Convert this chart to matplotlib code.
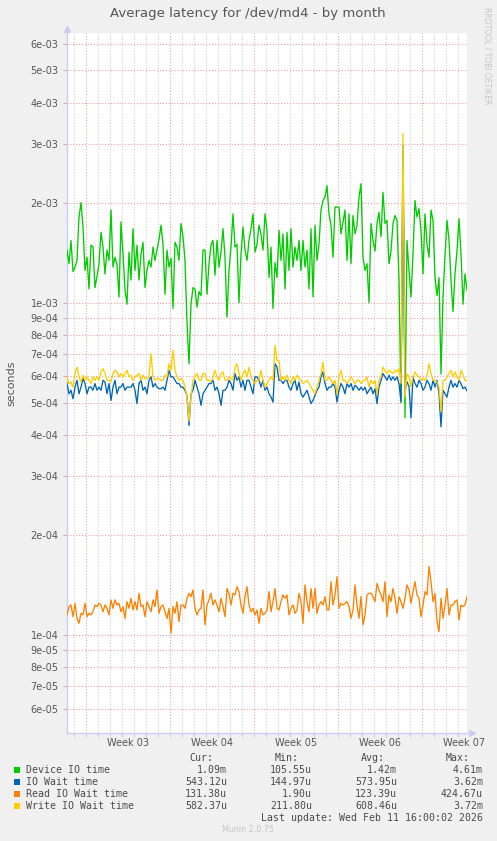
import numpy as np
import matplotlib
matplotlib.use("Agg")
import matplotlib.pyplot as plt
from matplotlib.patches import Rectangle

# ---------------- data ----------------
title = "Average latency for /dev/md4 - by month"
period_hours = 800          # graph covers 800 hours (2 h per pixel)
week_labels = ["Week 03", "Week 04", "Week 05", "Week 06", "Week 07"]
first_day_line = 0.55       # days from graph start to first midnight line
first_week_line = 1.558     # days from graph start to first week line

# Device IO time (milliseconds)
device_io_ms = [
    1.44, 1.31, 1.54, 1.24, 1.28, 1.34, 1.81, 2.0, 1.69, 1.25,
    1.37, 1.10, 1.49, 1.47, 1.11, 1.20, 1.31, 1.63, 1.47, 1.22,
    1.44, 1.34, 1.90, 1.28, 1.37, 1.30, 1.04, 1.75, 1.40, 1.09,
    0.99, 1.42, 1.17, 1.67, 1.25, 1.49, 1.17, 1.40, 1.52, 1.11,
    1.25, 1.34, 1.28, 1.47, 1.34, 1.44, 1.55, 1.71, 1.50, 1.06,
    1.44, 1.28, 1.36, 0.96, 1.52, 1.47, 1.34, 1.73, 1.58, 1.34,
    0.87, 0.655, 0.99, 1.11, 1.10, 0.97, 1.08, 1.05, 1.44,
    1.44, 1.06, 1.31, 1.49, 1.54, 1.21, 1.54, 1.28, 1.42, 1.67,
    1.37, 0.905, 1.25, 1.47, 1.85, 1.47, 1.50, 1.0, 1.40, 1.69,
    1.44, 1.34, 1.54, 1.67, 1.85, 1.42, 1.50, 1.71, 1.61, 1.44,
    1.85, 1.65, 1.19, 1.47, 0.96, 1.32, 1.19, 1.65, 1.34, 1.61,
    1.10, 1.63, 1.25, 1.67, 1.28, 1.47, 1.34, 1.54, 1.25, 1.54,
    1.28, 1.44, 1.10, 1.67, 1.04, 1.71, 1.34, 1.50, 1.90, 2.03,
    2.08, 2.25, 1.85, 1.71, 1.37, 1.94, 1.94,
    1.94, 1.61, 1.75, 1.90, 1.34, 1.85, 1.31, 1.83, 1.61, 1.71,
    2.08, 2.28, 1.37, 1.25, 1.31, 1.0, 1.73, 1.54, 1.43, 1.73,
    1.87, 1.58, 2.15, 1.73, 1.77, 1.31, 1.43, 1.73, 1.83, 1.77,
    1.17, 0.50, 2.8, 0.45, 1.54, 1.25, 1.04, 1.40, 2.03, 1.81,
    1.92, 1.65, 1.22, 1.85, 1.50, 1.37, 1.90, 1.77, 1.19, 1.05,
    1.19, 0.61, 1.04, 1.39, 1.77, 1.54, 1.17, 0.94, 1.22, 1.43,
    1.79, 1.40, 0.99, 1.22, 1.09,
]

# IO Wait time (microseconds)
io_wait_us = [
    571, 532, 545, 514, 557, 584, 532, 557, 591, 571,
    532, 557, 557, 545, 571, 545, 557, 545, 584, 577,
    532, 571, 508, 557, 584, 532, 557, 557, 571, 545,
    557, 557, 557, 571, 545, 497, 571, 584, 545, 557,
    532, 584, 598, 557, 571, 557, 551, 551, 557, 545,
    584, 626, 598, 598, 584, 571, 571, 557, 557, 545,
    526, 427, 532, 545, 584, 557, 532, 491, 532, 545,
    557, 571, 571, 584, 545, 557, 532, 491, 545, 545,
    557, 584, 571, 545, 612, 584, 598, 557, 584, 545,
    584, 584, 557, 532, 598, 598, 584, 557, 584, 545,
    557, 532, 520, 502, 655, 640, 584, 584, 571, 584,
    584, 557, 545, 571, 584, 545, 577, 532, 520, 532,
    545, 520, 497, 508, 526, 545, 557, 598, 619, 571,
    545, 557, 557, 571, 557, 502, 545, 571, 557, 532,
    571, 557, 571, 545, 564, 557, 545, 557, 545, 557,
    532, 545, 557, 532, 551, 497, 557, 584, 612, 598,
    584, 605, 584, 598, 584, 598, 571, 504, 2980, 540,
    578, 560, 450, 598, 571, 557, 584, 571, 545, 557,
    584, 571, 545, 584, 557, 584, 532, 423, 545, 532,
    520, 557, 584, 557, 571, 557, 584, 571, 551, 557,
    543,
]

# Read IO Wait time (microseconds)
read_wait_us = [
    114.9, 121.7, 123.1, 113.5, 124.5, 112.2, 108.4, 116.2, 114.9, 124.5,
    113.5, 116.2, 114.9, 117.5, 123.1, 121.7, 124.5, 123.1, 117.5, 123.1,
    120.3, 114.9, 127.5, 120.3, 127.5, 123.1, 124.5, 117.5, 121.7, 112.2,
    126.0, 120.3, 129.0, 118.9, 126.0, 118.9, 133.5, 121.7, 123.1, 113.5,
    126.0, 121.7, 117.5, 127.5, 121.7, 136.6, 116.2, 121.7, 123.1, 117.5,
    112.2, 120.3, 101.2, 121.7, 116.2, 126.0, 109.7, 123.1, 123.1, 120.3,
    129.0, 133.5, 130.4, 136.6, 120.3, 114.9, 118.9, 120.3, 136.6, 107.2,
    123.1, 127.5, 133.5, 123.1, 127.5, 123.1, 117.5, 129.0, 121.7, 113.5,
    138.0, 133.5, 123.1, 133.5, 132.0, 139.8, 135.0, 123.1, 116.2, 130.4,
    139.8, 123.1, 117.5, 120.3, 114.9, 118.9, 108.4, 120.3, 114.9, 116.2,
    118.9,
    135.0, 117.5, 126.0, 138.0, 120.3, 118.9, 126.0, 132.0, 129.0, 132.0,
    114.9, 120.3, 123.1, 116.2, 118.9, 133.5, 126.0, 108.4, 141.4, 126.0,
    117.5, 138.0, 120.3, 138.0, 116.2, 123.1, 126.0, 123.1, 130.4, 118.9,
    118.9, 144.7, 123.1, 132.0, 149.8, 120.3, 124.5, 123.1, 124.5, 126.0,
    121.7, 112.2, 118.9, 141.4, 123.1, 112.2, 130.4, 107.2, 114.9, 132.0,
    133.5, 133.5, 130.4, 126.0, 143.0, 136.6, 132.0, 126.0, 144.7, 113.5,
    132.0, 126.0, 138.0, 129.0, 116.2, 130.4, 126.0, 120.3, 129.0, 141.4,
    136.6, 124.5, 135.0, 144.7, 132.0, 129.0, 113.5, 123.1, 135.0, 132.0,
    160.7, 144.7, 126.0, 133.5, 109.7, 102.3, 129.0, 112.2, 123.1, 138.0,
    114.9, 123.1, 123.1, 126.0, 127.5, 111.0, 123.1, 121.7, 123.1, 130.4,
]

# Write IO Wait time (microseconds)
write_wait_us = [
    598, 571, 577, 557, 612, 640, 598, 577, 605, 584,
    598, 584, 571, 598, 584, 598, 584, 619, 633, 612,
    584, 584, 577, 612, 626, 619, 598, 612, 598, 612,
    626, 598, 605, 584, 598, 605, 612, 584, 605, 591,
    591, 598, 701, 598, 584, 591, 591, 584, 584, 605,
    598, 655, 626, 719, 626, 598, 584, 591, 584, 557,
    520, 440, 520, 584, 598, 612, 584, 584, 612, 612,
    584, 584, 577, 598, 626, 598, 584, 612, 619, 584,
    584, 598, 591, 584, 640, 655, 612, 584, 612, 626,
    598, 640, 598, 584, 571, 584, 584, 626, 584, 557,
    571, 584, 598, 584, 744, 669, 669, 584, 598, 584,
    605, 584, 571, 598, 584, 605, 591, 584, 571, 577,
    584, 571, 557, 545, 532, 557, 584, 612, 663, 584,
    584, 598, 584, 571, 584, 532, 598, 626, 584, 584,
    571, 584, 598, 584, 571, 584, 584, 571, 584, 584,
    598, 557, 584, 571, 584, 532, 584, 598, 640, 626,
    612, 626, 619, 612, 626, 619, 633, 571, 3230, 520,
    610, 600, 560, 598, 619, 605, 598, 584, 591, 584,
    605, 655, 612, 584, 584, 577, 557, 470, 584, 584,
    598, 612, 626, 598, 619, 598, 584, 626, 605, 584,
    582,
]

series_names = ["Device IO time", "IO Wait time", "Read IO Wait time", "Write IO Wait time"]
series_colors = ["#00CC00", "#0066B3", "#FF8000", "#FFCC00"]
cur_vals = ["1.09m", "543.12u", "131.38u", "582.37u"]
min_vals = ["105.55u", "144.97u", "1.90u", "211.80u"]
avg_vals = ["1.42m", "573.95u", "123.39u", "608.46u"]
max_vals = ["4.61m", "3.62m", "424.67u", "3.72m"]
last_update = "Last update: Wed Feb 11 16:00:02 2026"
version = "Munin 2.0.75"

y_ticks = [6e-5, 7e-5, 8e-5, 9e-5, 1e-4, 2e-4, 3e-4, 4e-4, 5e-4, 6e-4, 7e-4,
           8e-4, 9e-4, 1e-3, 2e-3, 3e-3, 4e-3, 5e-3, 6e-3]
y_limits = (5.07e-5, 6.48e-3)

# ---------------- figure ----------------
W, H = 497, 841
fig = plt.figure(figsize=(W / 100, H / 100), dpi=100, facecolor="#F0F0F0")
ax = fig.add_axes([67 / W, 1 - 733 / H, 400 / W, 700 / H])
ax.set_facecolor("white")

span_days = period_hours / 24.0
series_values = [
    np.array(device_io_ms) * 1e-3,
    np.array(io_wait_us) * 1e-6,
    np.array(read_wait_us) * 1e-6,
    np.array(write_wait_us) * 1e-6,
]
for vals, col in zip(series_values, series_colors):
    t = np.linspace(0, span_days, len(vals))
    ax.plot(t, vals, color=col, lw=0.95, zorder=3, solid_joinstyle="round")

ax.set_yscale("log")
ax.set_ylim(*y_limits)
ax.set_xlim(0, span_days)

# grid
major_c = "#E9A3A3"
minor_c = "#CFCFCF"
dot = (0, (1, 1.6))
day_lines = np.arange(first_day_line, span_days, 1.0)
week_lines = np.arange(first_week_line, span_days, 7.0)
for d in day_lines:
    is_week = np.min(np.abs(week_lines - d)) < 0.05
    ax.axvline(d, color=major_c if is_week else minor_c, lw=0.8, ls=dot, zorder=1)
for yv in y_ticks:
    ax.axhline(yv, color=major_c, lw=0.8, ls=dot, zorder=1)

# ticks
ax.set_yticks(y_ticks)
ax.set_yticklabels(["%.0e" % v for v in y_ticks])
ax.yaxis.set_minor_locator(matplotlib.ticker.NullLocator())
ax.tick_params(axis="y", which="major", length=3, width=0.8, color=major_c,
               labelsize=7, labelcolor="#555555", pad=3)
label_pos = week_lines + 3.5
ax.set_xticks(label_pos)
ax.set_xticklabels(week_labels)
ax.tick_params(axis="x", which="major", length=0, labelsize=7,
               labelcolor="#555555", pad=3.5)
ax.set_xticks(day_lines, minor=True)
ax.tick_params(axis="x", which="minor", length=3, width=0.8, color=minor_c)

for s in ["top", "right"]:
    ax.spines[s].set_visible(False)
for s in ["left", "bottom"]:
    ax.spines[s].set_color("#C9CEF2")
    ax.spines[s].set_linewidth(1.0)

# axis arrows
ax.plot([0], [1.006], marker="^", markersize=5, color="#C9CEF2",
        transform=ax.transAxes, clip_on=False)
ax.plot([1.012], [0], marker=">", markersize=5, color="#C9CEF2",
        transform=ax.transAxes, clip_on=False)

# texts
fig.text(248 / W, 1 - 14 / H, title, ha="center", va="center",
         fontsize=9.5, color="#555555")
fig.text(11 / W, 1 - 383 / H, "seconds", rotation=90, ha="center",
         va="center", fontsize=8, color="#555555")
fig.text(487 / W, 1 - 56 / H, "RRDTOOL / TOBI OETIKER", rotation=270,
         ha="center", va="center", fontsize=5.5, color="#C4C4C4")

mono = "DejaVu Sans Mono"
fs = 7.1
tc = "#4A4A4A"
hdr_y = 758
for txt, xr in zip(["Cur:", "Min:", "Avg:", "Max:"], [213, 299, 385, 470]):
    fig.text(xr / W, 1 - hdr_y / H, txt, ha="right", va="center",
             family=mono, fontsize=fs, color=tc)
for i, name in enumerate(series_names):
    yy = 770 + 12 * i
    fig.patches.append(Rectangle((14 / W, 1 - (yy + 3) / H), 6 / W, 6 / H,
                                 transform=fig.transFigure,
                                 facecolor=series_colors[i], edgecolor="none"))
    fig.text(26 / W, 1 - yy / H, name, ha="left", va="center",
             family=mono, fontsize=fs, color=tc)
    for vals, xr in zip([cur_vals, min_vals, avg_vals, max_vals],
                        [227, 312, 397, 483]):
        fig.text(xr / W, 1 - yy / H, vals[i], ha="right", va="center",
                 family=mono, fontsize=fs, color=tc)
fig.text(483 / W, 1 - 818 / H, last_update, ha="right", va="center",
         family=mono, fontsize=fs, color=tc)
fig.text(248 / W, 1 - 830 / H, version, ha="center", va="center",
         fontsize=5.8, color="#C4C4C4")

fig.savefig("out.png", dpi=100, facecolor=fig.get_facecolor())
